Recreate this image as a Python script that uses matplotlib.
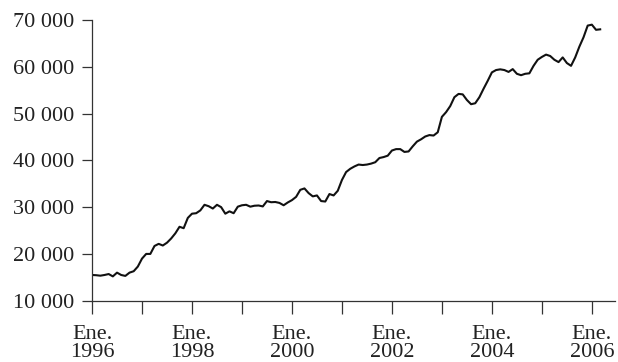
import matplotlib
matplotlib.use("Agg")
import matplotlib.pyplot as plt
import numpy as np

# valores mensuales, Ene. 1996 - Mar. 2006
valores = [
    15500, 15450, 15350, 15500, 15700, 15200, 16000, 15500, 15300, 16000, 16300, 17300,  # 1996
    19000, 20000, 20000, 21700, 22150, 21800, 22400, 23300, 24400, 25800, 25500, 27700,  # 1997
    28600, 28700, 29300, 30500, 30200, 29700, 30500, 30000, 28600, 29100, 28700, 30100,  # 1998
    30400, 30500, 30100, 30300, 30350, 30150, 31300, 31050, 31100, 30900, 30400, 31000,  # 1999
    31500, 32200, 33700, 34000, 33000, 32300, 32500, 31300, 31200, 32800, 32500, 33500,  # 2000
    35800, 37500, 38200, 38700, 39100, 39000, 39100, 39300, 39600, 40500, 40700, 41000,  # 2001
    42100, 42400, 42400, 41800, 41900, 43000, 44000, 44500, 45100, 45400, 45300, 46000,  # 2002
    49300, 50300, 51600, 53500, 54200, 54100, 52900, 52000, 52200, 53500, 55300, 57000,  # 2003
    58800, 59300, 59450, 59300, 58900, 59500, 58500, 58200, 58500, 58600, 60200, 61500,  # 2004
    62100, 62600, 62300, 61500, 61000, 62000, 60800, 60200, 62000, 64300, 66300, 68800,  # 2005
    69000, 67900, 68000,                                                                  # 2006
]
anio_inicio = 1996
anios_ticks = list(range(1996, 2007))
etiquetas_x = ["Ene.\n%d" % a if a % 2 == 0 else "" for a in anios_ticks]
ticks_y = [10000, 20000, 30000, 40000, 50000, 60000, 70000]
etiquetas_y = ["10 000", "20 000", "30 000", "40 000", "50 000", "60 000", "70 000"]

fechas = anio_inicio + np.arange(len(valores)) / 12.0

plt.rcParams["font.family"] = ["Liberation Serif", "DejaVu Serif"]

fig = plt.figure(figsize=(6.18, 3.62), dpi=100)
ax = fig.add_axes([0.1489, 0.1693, 0.846, 0.7755])

ax.plot(fechas, valores, color="#111111", lw=1.5)

ax.set_xlim(1996, 2006.46)
ax.set_ylim(10000, 70000)
ax.set_xticks(anios_ticks)
ax.set_xticklabels(etiquetas_x, linespacing=0.95)
ax.set_yticks(ticks_y)
ax.set_yticklabels(etiquetas_y)

for s in ["top", "right"]:
    ax.spines[s].set_visible(False)
for s in ["left", "bottom"]:
    ax.spines[s].set_linewidth(0.9)
    ax.spines[s].set_color("#333333")

ax.tick_params(axis="x", direction="out", length=9.5, width=0.9, color="#333333",
               labelsize=16, pad=8, labelcolor="#222222")
ax.tick_params(axis="y", direction="out", length=7, width=0.9, color="#333333",
               labelsize=16, pad=6, labelcolor="#222222")

fig.savefig("out.png", dpi=100)
